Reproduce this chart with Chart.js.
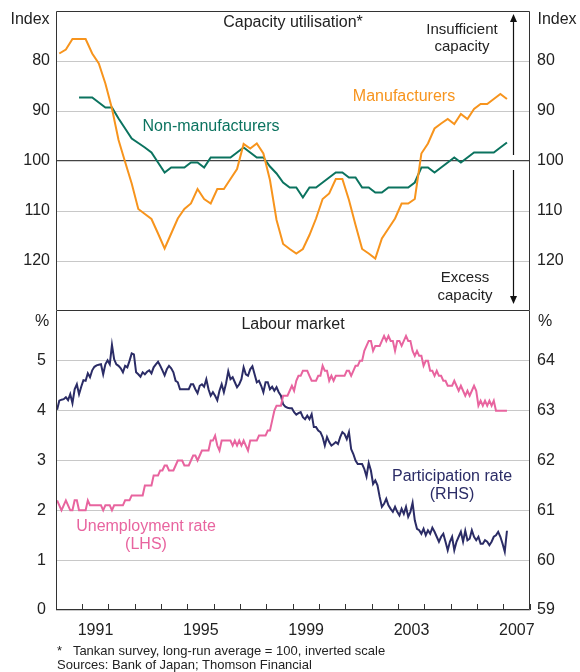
<!DOCTYPE html>
<html>
<head>
<meta charset="utf-8">
<script src="https://cdn.jsdelivr.net/npm/chart.js@4.4.1/dist/chart.umd.min.js"></script>
<style>
  body { margin: 0; background: #fff; }
  #wrap { position: relative; width: 580px; height: 672px; overflow: hidden;
          font-family: "Liberation Sans", Arial, sans-serif; color: #222; }
  #top { position: absolute; left: 0; top: 0; }
  #bot { position: absolute; left: 0; top: 311px; }
  .t { position: absolute; white-space: nowrap; font-size: 16px; line-height: 1;
       transform: translate(-50%, -50%); }
  .note { position: absolute; left: 57px; white-space: nowrap; font-size: 13px; line-height: 1; }
</style>
</head>
<body>
<div id="wrap">
  <canvas id="top" width="580" height="311"></canvas>
  <canvas id="bot" width="580" height="361"></canvas>

  <div class="t" style="left:30px;top:19px">Index</div>
  <div class="t" style="left:557px;top:19px">Index</div>
  <div class="t" style="left:293px;top:22px">Capacity utilisation*</div>
  <div class="t" style="left:462px;top:28px;font-size:15px">Insufficient</div>
  <div class="t" style="left:462px;top:45px;font-size:15px">capacity</div>
  <div class="t" style="left:465px;top:276px;font-size:15px">Excess</div>
  <div class="t" style="left:465px;top:294px;font-size:15px">capacity</div>
  <div class="t" style="left:404px;top:96px;color:#f7941d">Manufacturers</div>
  <div class="t" style="left:211px;top:126px;color:#0b735f">Non-manufacturers</div>

  <div class="t" style="left:42px;top:321px">%</div>
  <div class="t" style="left:545px;top:321px">%</div>
  <div class="t" style="left:293px;top:324px">Labour market</div>
  <div class="t" style="left:146px;top:526px;color:#e8649f">Unemployment rate</div>
  <div class="t" style="left:146px;top:544px;color:#e8649f">(LHS)</div>
  <div class="t" style="left:452px;top:476px;color:#2b2c66">Participation rate</div>
  <div class="t" style="left:452px;top:494px;color:#2b2c66">(RHS)</div>

  <div class="note" style="top:644px">*&nbsp;&nbsp;&nbsp;Tankan survey, long-run average = 100, inverted scale</div>
  <div class="note" style="top:658px">Sources: Bank of Japan; Thomson Financial</div>
</div>

<script>
// Tankan capacity utilisation, quarterly from 1990 Q1 (inverted index)
const capStartYear = 1990;
const manufacturers = [
  78.5, 77.7, 75.6, 75.6, 75.6, 78.5, 80.5, 84.5, 89.5, 95.8,
  100.2, 104.5, 109.6, 110.6, 111.6, 114.5, 117.5, 114.5, 111.5, 109.6,
  108.5, 105.6, 107.6, 108.5, 105.6, 105.6, 103.6, 101.6, 96.6, 97.5,
  96.5, 98.5, 103.8, 111.8, 116.6, 117.6, 118.5, 117.6, 114.8, 111.5,
  107.6, 106.5, 103.6, 103.6, 107.8, 112.8, 117.6, 118.5, 119.5, 115.5,
  113.5, 111.5, 108.5, 108.5, 107.6, 98.5, 96.5, 93.5, 92.5, 91.6,
  92.6, 90.6, 91.6, 89.6, 88.6, 88.6, 87.6, 86.6, 87.6
];
const nonManufacturers = [
  null, null, null, 87.3, 87.3, 87.3, 88.3, 89.3, 89.3, 91.5,
  93.5, 95.5, 96.4, 97.3, 98.3, 100.3, 102.3, 101.3, 101.3, 101.3,
  100.3, 100.3, 101.3, 99.3, 99.3, 99.3, 99.3, 98.3, 97.3, 98.3,
  99.3, 99.3, 101.1, 102.5, 104.3, 105.3, 105.3, 107.3, 105.3, 105.3,
  104.3, 103.3, 102.3, 102.3, 103.3, 103.3, 105.3, 105.3, 106.3, 106.3,
  105.3, 105.3, 105.3, 105.3, 104.3, 101.3, 101.3, 102.3, 101.3, 100.3,
  99.3, 100.3, 99.3, 98.3, 98.3, 98.3, 98.3, 97.3, 96.3
];

// Labour market, monthly from Jan 1990
const labourStartYear = 1990;
const unemployment = [
  2.2, 2.1, 2.0, 2.1, 2.2, 2.1, 2.0, 2.0, 2.2, 2.2,
  2.0, 2.0, 2.0, 2.0, 2.2, 2.1, 2.1, 2.1, 2.1, 2.1,
  2.1, 2.0, 2.1, 2.1, 2.1, 2.0, 2.1, 2.1, 2.1, 2.1,
  2.1, 2.2, 2.2, 2.2, 2.3, 2.3, 2.3, 2.3, 2.3, 2.3,
  2.5, 2.5, 2.5, 2.5, 2.7, 2.7, 2.7, 2.8, 2.8, 2.9,
  2.9, 2.8, 2.8, 2.8, 2.9, 3.0, 3.0, 3.0, 2.9, 2.9,
  2.9, 3.0, 3.1, 3.1, 3.0, 3.1, 3.2, 3.2, 3.2, 3.2,
  3.4, 3.4, 3.5, 3.3, 3.2, 3.4, 3.4, 3.4, 3.4, 3.4,
  3.3, 3.4, 3.3, 3.4, 3.3, 3.4, 3.3, 3.2, 3.4, 3.4,
  3.4, 3.4, 3.5, 3.5, 3.5, 3.5, 3.6, 3.6, 3.8, 4.0,
  4.1, 4.1, 4.1, 4.3, 4.3, 4.3, 4.4, 4.5, 4.4, 4.6,
  4.7, 4.7, 4.8, 4.8, 4.8, 4.7, 4.6, 4.6, 4.6, 4.7,
  4.7, 4.9, 4.8, 4.8, 4.6, 4.7, 4.6, 4.7, 4.7, 4.7,
  4.7, 4.7, 4.8, 4.8, 4.7, 4.8, 4.9, 4.9, 5.0, 5.0,
  5.2, 5.3, 5.4, 5.4, 5.2, 5.3, 5.3, 5.3, 5.4, 5.5,
  5.4, 5.5, 5.4, 5.4, 5.2, 5.4, 5.4, 5.3, 5.4, 5.5,
  5.4, 5.4, 5.2, 5.1, 5.2, 5.1, 5.1, 4.9, 5.0, 5.0,
  4.8, 4.8, 4.7, 4.8, 4.7, 4.7, 4.6, 4.6, 4.5, 4.5,
  4.5, 4.6, 4.5, 4.4, 4.5, 4.4, 4.3, 4.4, 4.3, 4.4,
  4.5, 4.4, 4.1, 4.2, 4.1, 4.2, 4.1, 4.2, 4.1, 4.2,
  4.0, 4.0, 4.0, 4.0, 4.0, 4.0
];
const participation = [
  63.02, 63.2, 63.22, 63.23, 63.27, 63.21, 63.33, 63.15, 63.43, 63.53,
  63.33, 63.48, 63.61, 63.6, 63.75, 63.67, 63.81, 63.88, 63.91, 63.92,
  63.93, 63.73, 63.93, 64.01, 63.93, 64.32, 64.03, 63.93, 63.9, 63.85,
  63.77, 63.9, 63.87, 64.0, 64.15, 64.13, 63.77, 63.73, 63.68, 63.77,
  63.73, 63.78, 63.81, 63.75, 63.87, 63.93, 63.98, 63.9, 63.81, 63.71,
  63.83, 63.9, 63.85, 63.77, 63.6, 63.57, 63.43, 63.43, 63.43, 63.43,
  63.43, 63.53, 63.53, 63.43, 63.35, 63.5, 63.53, 63.48, 63.63, 63.43,
  63.3, 63.37, 63.3, 63.21, 63.4, 63.53, 63.37, 63.55, 63.79, 63.63,
  63.67, 63.57, 63.47, 63.53, 63.63, 63.87, 63.73, 63.7, 63.83, 63.89,
  63.73, 63.57, 63.6, 63.5, 63.37, 63.57, 63.57, 63.43, 63.48, 63.4,
  63.47, 63.37, 63.3, 63.13, 63.08, 63.06, 63.05, 63.05, 62.97, 62.92,
  62.95, 62.97, 62.87, 62.83, 62.9, 62.83, 62.93, 62.67, 62.67, 62.6,
  62.57, 62.47, 62.3, 62.47, 62.37, 62.3, 62.33, 62.37, 62.33, 62.47,
  62.57, 62.53, 62.43, 62.57, 62.23, 62.13, 62.0, 61.93, 61.93, 61.93,
  61.83, 61.68, 61.95, 61.8, 61.53, 61.6, 61.5, 61.27, 61.07, 61.13,
  61.23, 61.1, 61.03, 60.97, 61.07, 60.97, 60.9, 61.03, 60.93, 61.07,
  60.87, 60.97, 61.15, 60.8, 60.63, 60.6, 60.53, 60.63, 60.5, 60.6,
  60.53, 60.65, 60.57, 60.47, 60.37, 60.47, 60.53, 60.37, 60.2, 60.37,
  60.47, 60.2, 60.37, 60.47, 60.57, 60.37, 60.59, 60.4, 60.43, 60.6,
  60.47, 60.4, 60.47, 60.33, 60.33, 60.4, 60.37, 60.3, 60.37, 60.47,
  60.5, 60.57, 60.47, 60.33, 60.17, 60.59
];

const capTicks = [80, 90, 100, 110, 120];
const pctTicks = [0, 1, 2, 3, 4, 5];
const partTicks = [59, 60, 61, 62, 63, 64];
const yearLabels = [1991, 1995, 1999, 2003, 2007];

const ORANGE = '#f7941d';
const GREEN = '#0b735f';
const PINK = '#e8649f';
const NAVY = '#2b2c66';
const GRID = '#c8c8c8';
const TEXT = '#222';
const FONT = '"Liberation Sans", Arial, sans-serif';

Chart.defaults.font.family = FONT;
Chart.defaults.font.size = 16;
Chart.defaults.color = TEXT;

const quarterly = (arr, start) => arr
  .map((v, i) => ({ x: start + (i + 0.5) / 4, y: v }))
  .filter(p => p.y !== null);
const monthly = (arr, start) => arr.map((v, i) => ({ x: start + (i + 0.5) / 12, y: v }));

const lineDs = (label, data, color, axis) => ({
  label, data, yAxisID: axis,
  borderColor: color, backgroundColor: color,
  borderWidth: 2, pointRadius: 0, tension: 0, fill: false,
});

// thin dark box round the plot area
const framePlugin = (skipTop) => ({
  id: 'frame',
  afterDatasetsDraw(chart) {
    const { ctx, chartArea: a } = chart;
    ctx.save();
    ctx.strokeStyle = '#333';
    ctx.lineWidth = 1;
    ctx.beginPath();
    ctx.moveTo(a.left + 0.5, skipTop ? a.top : a.top + 0.5);
    ctx.lineTo(a.left + 0.5, a.bottom - 0.5);
    ctx.lineTo(a.right - 0.5, a.bottom - 0.5);
    ctx.lineTo(a.right - 0.5, skipTop ? a.top : a.top + 0.5);
    if (!skipTop) ctx.closePath();
    ctx.stroke();
    ctx.restore();
  }
});

// insufficient / excess capacity arrows on the right of the top panel
const arrowPlugin = {
  id: 'arrows',
  afterDatasetsDraw(chart) {
    const { ctx } = chart;
    const x = 513.5;
    ctx.save();
    ctx.strokeStyle = '#111';
    ctx.fillStyle = '#111';
    ctx.lineWidth = 1.2;
    ctx.beginPath();
    ctx.moveTo(x, 155); ctx.lineTo(x, 20);
    ctx.moveTo(x, 170); ctx.lineTo(x, 298);
    ctx.stroke();
    ctx.beginPath();
    ctx.moveTo(x, 14); ctx.lineTo(x - 3.5, 22); ctx.lineTo(x + 3.5, 22); ctx.closePath();
    ctx.moveTo(x, 304); ctx.lineTo(x - 3.5, 296); ctx.lineTo(x + 3.5, 296); ctx.closePath();
    ctx.fill();
    ctx.restore();
  }
};

const yAxis = (side, min, max, tickVals, width, pad, extra) => Object.assign({
  position: side, min, max,
  afterBuildTicks: s => { s.ticks = tickVals.map(v => ({ value: v })); },
  afterFit: s => { s.width = width; s.paddingTop = 0; s.paddingBottom = 0; },
  border: { display: false },
  grid: { drawTicks: false, drawOnChartArea: side === 'left', color: GRID, lineWidth: 1 },
  ticks: { padding: pad, color: TEXT, font: { size: 16 } },
}, extra || {});

new Chart(document.getElementById('top'), {
  type: 'line',
  data: {
    datasets: [
      lineDs('Manufacturers', quarterly(manufacturers, capStartYear), ORANGE, 'y'),
      lineDs('Non-manufacturers', quarterly(nonManufacturers, capStartYear), GREEN, 'y'),
    ]
  },
  options: {
    responsive: false, animation: false,
    layout: { padding: { top: 11, bottom: 0, left: 0, right: 0 } },
    plugins: { legend: { display: false }, tooltip: { enabled: false } },
    scales: {
      x: { type: 'linear', min: 1990, max: 2008, display: false },
      y: yAxis('left', 70, 130, capTicks, 56, 6, {
        reverse: true,
        grid: {
          drawTicks: false,
          color: c => (c.tick && c.tick.value === 100) ? '#444' : GRID,
          lineWidth: c => (c.tick && c.tick.value === 100) ? 1.3 : 1,
        },
      }),
      y2: yAxis('right', 70, 130, capTicks, 50, 7, { reverse: true }),
    }
  },
  plugins: [framePlugin(false), arrowPlugin],
});

new Chart(document.getElementById('bot'), {
  type: 'line',
  data: {
    datasets: [
      lineDs('Unemployment rate', monthly(unemployment, labourStartYear), PINK, 'y'),
      lineDs('Participation rate', monthly(participation, labourStartYear), NAVY, 'y2'),
    ]
  },
  options: {
    responsive: false, animation: false,
    layout: { padding: { top: 0, bottom: 32, left: 0, right: 0 } },
    plugins: { legend: { display: false }, tooltip: { enabled: false } },
    scales: {
      x: {
        type: 'linear', position: 'bottom', min: 1990, max: 2008,
        afterBuildTicks: s => {
          const t = [];
          for (let v = 1990; v <= 2008; v += 0.5) t.push({ value: v });
          s.ticks = t;
        },
        afterFit: s => { s.height = 30; s.paddingLeft = 0; s.paddingRight = 0; },
        border: { display: false },
        grid: {
          drawOnChartArea: false, tickLength: -6, tickWidth: 1,
          tickColor: c => (c.tick && Number.isInteger(c.tick.value)) ? '#333' : 'rgba(0,0,0,0)',
        },
        ticks: {
          autoSkip: false, maxRotation: 0, padding: 17, color: TEXT, font: { size: 16 },
          callback: v => yearLabels.includes(v - 0.5) ? String(v - 0.5) : '',
        },
      },
      y: yAxis('left', 0, 6, pctTicks, 56, 10),
      y2: yAxis('right', 59, 65, partTicks, 50, 7),
    }
  },
  plugins: [framePlugin(true)],
});
</script>
</body>
</html>
